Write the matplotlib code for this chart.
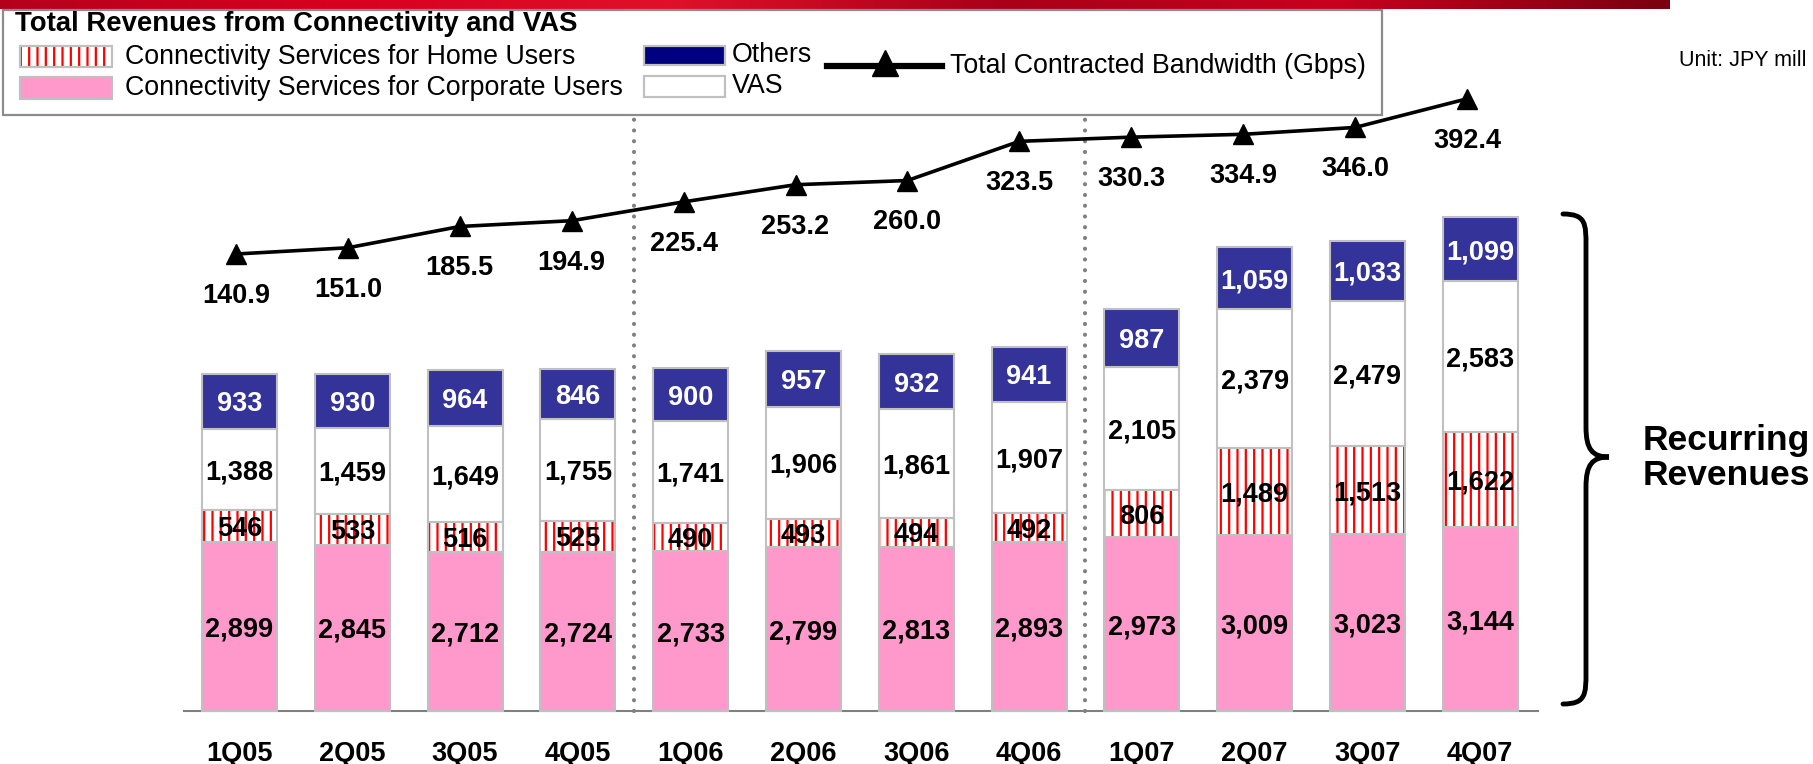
import numpy as np
import matplotlib
import matplotlib.pyplot as plt
from matplotlib.patches import Rectangle, PathPatch
from matplotlib.path import Path
from matplotlib.colors import LinearSegmentedColormap

plt.rcParams['font.family'] = ['Liberation Sans', 'DejaVu Sans']
plt.rcParams['hatch.linewidth'] = 1.6

# data (JPY million / Gbps)
quarters = ['1Q05', '2Q05', '3Q05', '4Q05', '1Q06', '2Q06', '3Q06', '4Q06',
            '1Q07', '2Q07', '3Q07', '4Q07']
corporate = [2899, 2845, 2712, 2724, 2733, 2799, 2813, 2893, 2973, 3009, 3023, 3144]
home = [546, 533, 516, 525, 490, 493, 494, 492, 806, 1489, 1513, 1622]
vas = [1388, 1459, 1649, 1755, 1741, 1906, 1861, 1907, 2105, 2379, 2479, 2583]
others = [933, 930, 964, 846, 900, 957, 932, 941, 987, 1059, 1033, 1099]
bandwidth = [140.9, 151.0, 185.5, 194.9, 225.4, 253.2, 260.0, 323.5, 330.3,
             334.9, 346.0, 392.4]

PINK = '#FF99CC'
NAVY = '#333399'
EDGE = '#C0C0C0'
W, H = 1813, 764
NUM = 19.5  # size of the bold numbers

fig = plt.figure(figsize=(W / 100, H / 100), dpi=100)

# bars axis: full figure, scaled so the layout lines up with the slide
x = np.arange(len(quarters))
ax = fig.add_axes([0, 0, 1, 1])
step, x0 = 112.8, 239.5
base_px, ppu = 53, 0.05845
ax.set_xlim(-x0 / step, (W - x0) / step)
ax.set_ylim(-base_px / ppu, (H - base_px) / ppu)
ax.axis('off')

corp = np.array(corporate)
hm = np.array(home)
va = np.array(vas)
ot = np.array(others)
bw = 0.665

ax.bar(x, corp, width=bw, color=PINK, edgecolor=EDGE, linewidth=1.5, zorder=2)
ax.bar(x, hm, bottom=corp, width=bw, color='white', edgecolor='#FF0000',
       hatch='||', linewidth=0, zorder=2)
ax.bar(x, hm, bottom=corp, width=bw, fill=False, edgecolor=EDGE,
       linewidth=1.5, zorder=3)
ax.bar(x, va, bottom=corp + hm, width=bw, color='white', edgecolor=EDGE,
       linewidth=1.5, zorder=2)
ax.bar(x, ot, bottom=corp + hm + va, width=bw, color=NAVY, edgecolor=EDGE,
       linewidth=1.5, zorder=2)

lab = dict(ha='center', va='center_baseline', fontsize=NUM, fontweight='bold',
           zorder=5)
for i in x:
    ax.text(i, corp[i] / 2, f'{corp[i]:,}', **lab)
    ax.text(i, corp[i] + hm[i] / 2, f'{hm[i]:,}', **lab)
    ax.text(i, corp[i] + hm[i] + va[i] / 2, f'{va[i]:,}', **lab)
    ax.text(i, corp[i] + hm[i] + va[i] + ot[i] / 2, f'{ot[i]:,}',
            color='white', **lab)
    # category labels sit just above the bottom edge of the slide
    ax.text(i, -(base_px - 3) / ppu, quarters[i], ha='center',
            va='baseline', fontsize=NUM, fontweight='bold')

# baseline and dotted year separators
ax.axhline(0, xmin=184 / W, xmax=1538 / W, color='#808080', lw=1.5, zorder=1)
for sx in (3.5, 7.5):
    ax.axvline(sx, ymin=base_px / H, ymax=(H - 113) / H, color='#808080',
               lw=3.0, linestyle=(0, (0.01, 2.57)), dash_capstyle='round',
               zorder=1)

# bandwidth line on its own scale
ax2 = fig.add_axes([0, 0, 1, 1])
ax2.patch.set_alpha(0)
ax2.set_xlim(-236 / 111.9, (W - 236) / 111.9)
ax2.set_ylim(-685.7, 552.6)
ax2.axis('off')
ax2.plot(x, bandwidth, color='black', lw=2.6, marker='^', ms=14, zorder=4)
for i, v in enumerate(bandwidth):
    ax2.annotate(f'{v:.1f}', (i, v), xytext=(0, -28), textcoords='offset points',
                 ha='center', va='center_baseline', fontsize=NUM,
                 fontweight='bold')

# overlay in pixel coordinates for legend, brace, header band
ov = fig.add_axes([0, 0, 1, 1])
ov.patch.set_alpha(0)
ov.set_xlim(0, W)
ov.set_ylim(H, 0)
ov.axis('off')

band = LinearSegmentedColormap.from_list(
    'band', ['#B5001C', '#D8001F', '#E0102A', '#A80018', '#C8001E', '#7A0010'])
ov.imshow(np.linspace(0, 1, 256)[None, :], cmap=band, aspect='auto',
          extent=(0, 1670, 9, 0), zorder=1)

LEG = 19.3
ov.add_patch(Rectangle((3, 10), 1379, 105, fill=False, edgecolor='#8C8C8C',
                       lw=1.6, zorder=2))
ov.text(15, 24, 'Total Revenues from Connectivity and VAS', fontsize=19.8,
        fontweight='bold', va='center')
ov.add_patch(Rectangle((20, 46), 92, 21, facecolor='white', edgecolor='#FF0000',
                       hatch='||', lw=0))
ov.add_patch(Rectangle((20, 46), 92, 21, fill=False, edgecolor=EDGE, lw=1.6))
ov.text(125, 57, 'Connectivity Services for Home Users', fontsize=LEG,
        va='center')
ov.add_patch(Rectangle((20, 77), 92, 22, facecolor=PINK, edgecolor=EDGE, lw=1.6))
ov.text(125, 88, 'Connectivity Services for Corporate Users', fontsize=LEG,
        va='center')
ov.add_patch(Rectangle((644, 46), 81, 19, facecolor='#000080', edgecolor=EDGE,
                       lw=1.6))
ov.text(732, 55, 'Others', fontsize=LEG, va='center')
ov.add_patch(Rectangle((644, 76), 81, 21, facecolor='white', edgecolor=EDGE,
                       lw=1.6))
ov.text(732, 86, 'VAS', fontsize=LEG, va='center')
ov.plot([827, 942], [66, 66], color='black', lw=4.5)
ov.plot([885], [63], marker='^', color='black', ms=19)
ov.text(950, 66, 'Total Contracted Bandwidth (Gbps)', fontsize=LEG, va='center')

ov.text(1679, 60, 'Unit: JPY mill', fontsize=15.5, va='center')

# curly brace
xl, xm, xt = 1563, 1586, 1609
yt, ym, yb = 214, 457, 704
verts = [(xl, yt), (xm, yt), (xm, yt + 10), (xm, yt + 32),
         (xm, ym - 30),
         (xm, ym - 8), (xm + 6, ym), (xt, ym),
         (xm + 6, ym), (xm, ym + 8), (xm, ym + 30),
         (xm, yb - 32),
         (xm, yb - 10), (xm, yb), (xl, yb)]
codes = [Path.MOVETO, Path.CURVE4, Path.CURVE4, Path.CURVE4,
         Path.LINETO,
         Path.CURVE4, Path.CURVE4, Path.CURVE4,
         Path.CURVE4, Path.CURVE4, Path.CURVE4,
         Path.LINETO,
         Path.CURVE4, Path.CURVE4, Path.CURVE4]
ov.add_patch(PathPatch(Path(verts, codes), fill=False, lw=3.5,
                       edgecolor='black', capstyle='round'))
ov.text(1643, 458, 'Recurring\nRevenues', fontsize=25.5, fontweight='bold',
        va='center', ha='left', linespacing=1.05)

fig.savefig('out.png', dpi=100)
